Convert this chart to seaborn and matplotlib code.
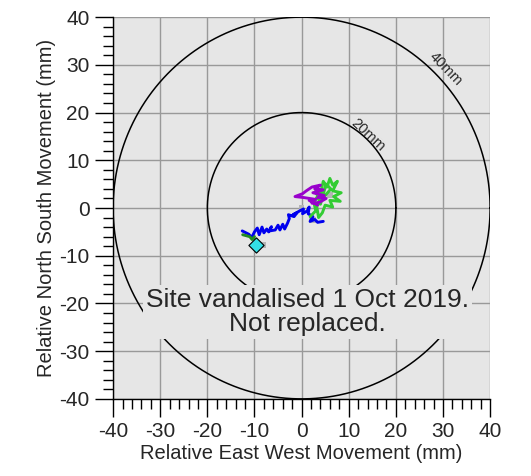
import numpy as np
import pandas as pd
import seaborn as sns
import matplotlib.pyplot as plt
from matplotlib.ticker import MultipleLocator

# Movement traces (mm)
blue_x = [-12.6, -11.2, -10.6, -10.0, -9.4, -9.0, -8.4, -8.0, -7.4, -7.0, -6.4, -6.8,
          -5.6, -5.0, -4.6, -4.0, -3.6, -3.0, -2.6, -2.8, -1.6, -1.0, -1.8, -0.4,
          0.4, 0.2, 1.2, 1.6, 1.4, 2.4, 1.8, 2.8, 3.4, 4.6]
blue_y = [-4.8, -5.5, -6.2, -5.0, -4.2, -5.6, -4.0, -5.2, -4.4, -5.0, -3.9, -4.8,
          -4.6, -3.6, -4.6, -3.4, -4.4, -3.2, -2.2, -1.4, -1.8, -1.0, -1.4, -0.6,
          -0.2, -1.2, -0.6, 0.2, -1.2, -1.8, -2.8, -2.4, -3.0, -2.8]

purple_x = [3.4, 1.6, 3.0, 0.4, -1.4, 0.2, 1.0, 2.2, 4.0, 2.8, 4.6, 2.4, 4.8, 3.4,
            5.2, 3.8, 2.2]
purple_y = [0.6, 1.6, 1.8, 2.2, 2.4, 3.0, 3.6, 4.4, 4.8, 4.0, 3.8, 3.2, 2.6, 2.2,
            2.0, 1.2, 1.0]

green_x = [1.8, 3.0, 2.6, 3.6, 3.0, 4.0, 4.6, 5.4, 6.0, 6.6, 7.6, 6.6, 8.4, 6.8,
           8.2, 6.0, 6.6, 5.0, 4.4, 3.6, 3.2, 5.0, 6.2, 5.2, 4.0, 3.0]
green_y = [-1.8, -0.6, 1.2, 2.8, 4.4, 3.0, 5.6, 4.4, 6.2, 4.8, 5.6, 3.6, 3.2, 2.4,
           1.4, 1.6, 0.2, 0.6, -1.0, -2.0, 0.4, 2.6, 4.0, 5.0, 0.8, 3.6]

dkgreen_x = [-12.5, -11.0, -10.5, -10.0]
dkgreen_y = [-5.6, -6.0, -6.6, -6.0]

gray_x = [-8.1, 2.2, 0.0, 6.0, 2.4]
gray_y = [-7.7, -2.5, 0.0, 2.7, -2.5]

last_x = [-9.7]
last_y = [-7.7]

ring_radii = [20, 40]
ring_labels = ['20mm', '40mm']
ticks = [-40, -30, -20, -10, 0, 10, 20, 30, 40]

sns.set_theme(style='white')
plt.rcParams['font.family'] = ['Liberation Sans', 'DejaVu Sans']
plt.rcParams['axes.unicode_minus'] = False

fig = plt.figure(figsize=(5.31, 4.76), dpi=100)
ax = fig.add_axes([0.213, 0.162, 0.710, 0.802])
ax.set_facecolor('#e6e6e6')

# reference rings
theta = np.linspace(0, 2 * np.pi, 400)
for r in ring_radii:
    ax.plot(r * np.cos(theta), r * np.sin(theta), color='black', lw=1.1, zorder=2)
ax.text(14.1, 15.3, ring_labels[0], rotation=-43, ha='center', va='center', fontsize=10.5, zorder=3)
ax.text(30.6, 29.2, ring_labels[1], rotation=-46, ha='center', va='center', fontsize=10.5, zorder=3)

sns.scatterplot(x=gray_x, y=gray_y, marker='s', s=16, color='#b4b4b4', edgecolor='none', ax=ax, zorder=3)

def trace(xs, ys, colour, z):
    df = pd.DataFrame({'x': xs, 'y': ys})
    sns.lineplot(data=df, x='x', y='y', sort=False, estimator=None, color=colour,
                 lw=2.1, ax=ax, zorder=z)

trace(blue_x, blue_y, '#0000ee', 4)
trace(green_x, green_y, '#33cc33', 4.1)
trace(purple_x, purple_y, '#9900cc', 4.2)
trace(dkgreen_x, dkgreen_y, '#228b22', 4.3)

sns.scatterplot(x=last_x, y=last_y, marker='D', s=60, color='#33e0e6', edgecolor='black',
                linewidth=0.8, ax=ax, zorder=5)

ax.text(1.3, -21.8, 'Site vandalised 1 Oct 2019.\nNot replaced.', ha='center', va='center',
        fontsize=19, linespacing=1.0, zorder=6,
        bbox=dict(facecolor='#e6e6e6', edgecolor='none', pad=2))

ax.set_xlim(-40, 40)
ax.set_ylim(-40, 40)
ax.set_xticks(ticks)
ax.set_yticks(ticks)
ax.xaxis.set_minor_locator(MultipleLocator(2))
ax.yaxis.set_minor_locator(MultipleLocator(2))
ax.grid(True, which='major', color='#999999', lw=1.0, zorder=1)
ax.set_axisbelow(True)
ax.tick_params(which='major', direction='out', length=13, width=1, color='black',
               labelsize=15, pad=4, bottom=True, left=True)
ax.tick_params(which='minor', direction='out', length=7, width=1, color='black',
               bottom=True, left=True)
for side in ['top', 'right']:
    ax.spines[side].set_visible(False)
for side in ['left', 'bottom']:
    ax.spines[side].set_color('black')
    ax.spines[side].set_linewidth(1)

ax.set_xlabel('Relative East West Movement (mm)', fontsize=14.5, labelpad=2)
ax.set_ylabel('Relative North South Movement (mm)', fontsize=14.5, labelpad=2)

fig.savefig('out.png', dpi=100)
